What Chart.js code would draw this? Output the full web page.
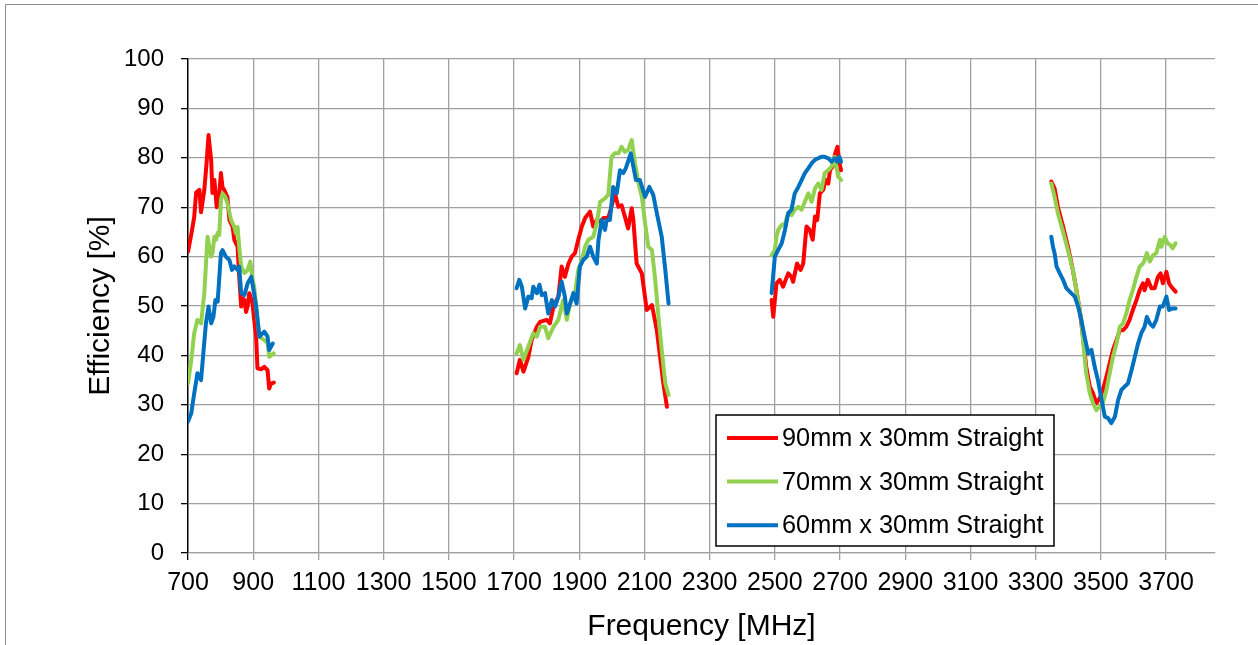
<!DOCTYPE html>
<html>
<head>
<meta charset="utf-8">
<script src="https://cdn.jsdelivr.net/npm/chart.js@4/dist/chart.umd.min.js"></script>
<style>
  html, body { margin: 0; padding: 0; background: #fff; }
  canvas { display: block; }
</style>
</head>
<body>
<canvas id="effChart" width="1258" height="645"></canvas>
<script>
// tick labels
const xTicks = [700, 900, 1100, 1300, 1500, 1700, 1900, 2100, 2300, 2500, 2700, 2900, 3100, 3300, 3500, 3700];

const seriesNames = ['90mm x 30mm Straight', '70mm x 30mm Straight', '60mm x 30mm Straight'];
const seriesColors = ['#ff0000', '#92d050', '#0070c0'];

// [frequency MHz, efficiency %], one array per band
const red700 = [[700,61],[710,64.5],[719,68],[725,73],[735,73.5],[740,69],[750,73.5],[757,79],[763,84.6],[767,82],[771,79.6],[775,72.9],[781,75.5],[788,70],[795,72],[801,76.9],[806,74],[811,73.5],[821,72],[827,67.4],[837,66],[842,63.4],[852,62],[858,55],[863,49.9],[868,51.5],[873,51.2],[878,48.8],[883,50],[888,52.6],[898,50.5],[903,47.2],[909,43.8],[913,37.4],[925,37.2],[934,37.7],[944,37],[949,33.3],[955,34.3],[963,34.5]];
const green700 = [[700,34.3],[710,39],[719,44.5],[729,47.2],[740,46.5],[750,52.6],[760,64],[771,60],[775,60.7],[781,64],[786,63.4],[791,64.8],[796,64.4],[801,71.5],[806,72.8],[814,72.1],[821,70.8],[832,67.4],[842,66],[847,64.7],[852,66],[857,62],[863,58],[873,56.7],[883,57.3],[891,59],[898,55.3],[903,53.9],[909,49.9],[919,43.8],[934,43.1],[944,42.5],[949,39.7],[963,40.4]];
const blue700 = [[700,26.6],[710,28.3],[719,32.3],[729,36.4],[740,35],[747,40.4],[755,46.5],[763,49.9],[771,46.5],[778,47.8],[784,51.2],[791,50.9],[801,60.7],[806,61.3],[816,60],[827,59.3],[835,57.3],[842,58],[852,57.3],[857,58],[863,52.6],[873,52.2],[883,54.6],[894,55.9],[901,53.2],[909,49.9],[919,43.8],[934,44.8],[944,43.8],[949,41.1],[960,42.4]];

const red1900 = [[1708,36.4],[1718,39.1],[1729,36.7],[1744,39.7],[1754,43.1],[1770,45.8],[1780,46.8],[1800,47.2],[1810,46.5],[1821,49.9],[1836,51.9],[1846,58],[1856,55.9],[1867,58.6],[1877,60],[1887,60.7],[1897,63.4],[1908,66.1],[1918,67.8],[1933,69.1],[1943,66.1],[1954,67.4],[1964,67.1],[1974,67.8],[1989,67.8],[1999,70.1],[2009,72.8],[2020,70.1],[2030,70.4],[2040,68.1],[2050,65.7],[2061,69.8],[2066,67.4],[2076,58.6],[2092,56.6],[2107,49.2],[2123,50.2],[2138,45.1],[2148,39.7],[2158,34.3],[2169,29.6]];
const green1900 = [[1708,40.4],[1718,42.1],[1729,39.1],[1744,41.8],[1759,44.5],[1770,43.8],[1780,45.8],[1795,45.8],[1805,43.5],[1821,45.8],[1836,47.2],[1851,51.2],[1862,47.2],[1872,50.5],[1887,52.6],[1897,57.3],[1908,59.3],[1918,62],[1928,63.4],[1943,64],[1954,66.8],[1964,71.1],[1979,71.8],[1989,72.5],[1999,80.2],[2009,80.9],[2020,80.9],[2030,82.2],[2040,81.2],[2050,81.6],[2061,83.6],[2071,78.9],[2082,74.8],[2092,72.1],[2102,66.7],[2112,62],[2123,61.3],[2133,55.3],[2143,47.8],[2153,41.1],[2164,34.3],[2174,32]];
const blue1900 = [[1708,53.6],[1716,55.3],[1724,53.9],[1734,49.5],[1744,51.9],[1754,51.6],[1759,53.9],[1770,52.6],[1778,54.3],[1785,52.2],[1795,52.6],[1805,48.5],[1816,51.2],[1826,49.9],[1836,51.9],[1846,54.9],[1856,51.9],[1862,48.5],[1872,50.5],[1882,52.6],[1892,50.5],[1902,58],[1912,59.3],[1923,60],[1933,62],[1943,60],[1954,58.6],[1959,63.4],[1969,67.4],[1979,65.4],[1984,67.4],[1994,67.4],[2004,74.1],[2015,72.8],[2025,77.5],[2035,76.9],[2043,77.9],[2058,80.9],[2066,78.2],[2074,75.5],[2086,75.5],[2102,72.1],[2115,74.1],[2127,72.5],[2138,68.8],[2153,64],[2164,57.3],[2174,50.5]];

const red2600 = [[2490,51.2],[2495,47.8],[2505,54.6],[2515,55.3],[2525,53.9],[2541,56.6],[2551,55.9],[2556,54.9],[2568,58.6],[2579,57.3],[2587,58.6],[2597,66.1],[2607,65.4],[2616,63.4],[2623,68.1],[2630,67.4],[2638,72.8],[2648,73.5],[2656,75.5],[2664,74.8],[2669,77.5],[2677,78.2],[2685,80.9],[2692,82.2],[2698,78.9],[2703,77.5]];
const green2600 = [[2490,60.3],[2500,61.3],[2505,64],[2510,65.4],[2521,66.4],[2531,66.7],[2541,68.8],[2551,68.4],[2561,69.5],[2572,70.1],[2582,69.5],[2592,71.1],[2603,72.8],[2613,71.1],[2623,73.8],[2633,74.8],[2643,73.5],[2653,76.9],[2664,77.5],[2674,78.2],[2684,80.2],[2694,76.2],[2703,75.5]];
const blue2600 = [[2490,52.6],[2500,60],[2510,61.3],[2521,62.7],[2531,65.4],[2541,68.8],[2551,69.5],[2561,72.8],[2572,74.1],[2582,75.5],[2592,76.9],[2603,77.9],[2613,78.9],[2623,79.6],[2633,79.9],[2643,80.2],[2653,80.2],[2664,79.9],[2674,79.2],[2684,79.9],[2692,79.2],[2698,80.2],[2703,79.2]];

const red3500 = [[3348,75.2],[3358,73.8],[3368,70.1],[3384,66.1],[3399,62],[3414,57.3],[3425,53.2],[3435,49.2],[3445,43.8],[3455,37.7],[3466,33.7],[3476,32.3],[3486,30.3],[3496,31.3],[3506,33],[3517,35.7],[3527,38.4],[3537,41.1],[3548,43.1],[3558,45.1],[3568,45.1],[3578,45.8],[3588,47.2],[3598,49.2],[3609,51.2],[3619,53.2],[3629,54.6],[3634,53.2],[3644,55.3],[3655,53.6],[3665,53.6],[3675,55.9],[3683,56.6],[3690,54.6],[3701,56.9],[3709,54.6],[3716,53.9],[3729,52.9]];
const green3500 = [[3348,74.8],[3358,72.1],[3368,68.8],[3384,65],[3399,61.3],[3414,57.3],[3430,51.2],[3440,47.2],[3447,41.8],[3455,36.4],[3466,32.3],[3476,30.3],[3486,28.9],[3496,29.6],[3506,30.3],[3517,33],[3527,36.4],[3537,39.7],[3548,42.4],[3558,45.8],[3568,46.5],[3578,48.5],[3588,51.2],[3598,53.2],[3609,55.9],[3619,58],[3629,58.6],[3634,59.3],[3641,60.7],[3650,59],[3660,60.3],[3670,60.7],[3681,63.4],[3686,62],[3696,64],[3704,62.7],[3712,62.4],[3720,61.7],[3729,62.7]];
const blue3500 = [[3348,64],[3353,62],[3358,60.7],[3364,58],[3374,56.6],[3384,55.3],[3394,53.6],[3409,52.6],[3420,51.9],[3430,49.9],[3440,47.2],[3450,43.8],[3461,40.4],[3471,41.1],[3481,37.7],[3491,35],[3502,31],[3512,27.6],[3522,27.3],[3532,26.3],[3543,27.6],[3553,31],[3563,33],[3573,33.7],[3583,34.3],[3594,37],[3604,39.7],[3614,42.4],[3624,44.5],[3634,45.8],[3641,47.8],[3650,46.5],[3660,45.8],[3670,47.2],[3681,49.9],[3690,49.9],[3701,51.9],[3709,49.2],[3720,49.5],[3729,49.5]];

const redBands = [red700, red1900, red2600, red3500];
const greenBands = [green700, green1900, green2600, green3500];
const blueBands = [blue700, blue1900, blue2600, blue3500];

// join the bands, with a null point between them so the line breaks
function joinBands(bands) {
    const out = [];
    bands.forEach((band, i) => {
        if (i > 0) out.push({ x: band[0][0] - 1, y: null });
        band.forEach(p => out.push({ x: p[0], y: p[1] }));
    });
    return out;
}

const gridGray = '#a0a0a0';
const font = 'Liberation Sans, Arial, sans-serif';

const frame = {
    id: 'frame',
    beforeDraw(chart) {
        const ctx = chart.ctx;
        ctx.save();
        ctx.fillStyle = '#fff';
        ctx.fillRect(0, 0, chart.width, chart.height);
        ctx.strokeStyle = '#8c8c8c';
        ctx.lineWidth = 1;
        ctx.beginPath();
        ctx.moveTo(5.5, chart.height + 5);
        ctx.lineTo(5.5, 4.5);
        ctx.lineTo(chart.width + 5, 4.5);
        ctx.stroke();
        ctx.restore();
    }
};

const boxLegend = {
    id: 'boxLegend',
    afterDraw(chart) {
        const ctx = chart.ctx;
        const area = chart.chartArea;
        const left = area.left + 528, top = area.top + 356, w = 338, h = 131;
        ctx.save();
        ctx.fillStyle = '#fff';
        ctx.fillRect(left, top, w, h);
        ctx.strokeStyle = '#000';
        ctx.lineWidth = 1.5;
        ctx.strokeRect(left, top, w, h);
        ctx.font = '25.3px ' + font;
        ctx.textBaseline = 'middle';
        ctx.textAlign = 'left';
        chart.data.datasets.forEach((ds, i) => {
            const y = top + 23 + i * 43.6;
            ctx.strokeStyle = ds.borderColor;
            ctx.lineWidth = 4;
            ctx.beginPath();
            ctx.moveTo(left + 11, y);
            ctx.lineTo(left + 62, y);
            ctx.stroke();
            ctx.fillStyle = '#000';
            ctx.fillText(ds.label, left + 66, y + 1);
        });
        ctx.restore();
    }
};

const allBands = [redBands, greenBands, blueBands];

new Chart(document.getElementById('effChart'), {
    type: 'line',
    data: {
        datasets: allBands.map((bands, i) => ({
            label: seriesNames[i],
            data: joinBands(bands),
            borderColor: seriesColors[i],
            backgroundColor: seriesColors[i],
            borderWidth: 4,
            pointRadius: 0,
            tension: 0,
            spanGaps: false,
            borderJoinStyle: 'round',
            borderCapStyle: 'round',
            order: 3 - i
        }))
    },
    options: {
        responsive: false,
        animation: false,
        devicePixelRatio: 1,
        layout: { padding: { left: 0, right: 43, top: 59, bottom: 0 } },
        plugins: { legend: { display: false }, tooltip: { enabled: false } },
        scales: {
            x: {
                type: 'linear',
                min: 700,
                max: 3850,
                afterBuildTicks: scale => { scale.ticks = xTicks.map(v => ({ value: v })); },
                afterFit: scale => { scale.height = 92; },
                grid: {
                    color: c => (c.tick && c.tick.value === 700 ? '#000' : gridGray),
                    tickColor: c => (c.tick && c.tick.value === 700 ? '#000' : gridGray),
                    lineWidth: 1.3,
                    tickLength: 7
                },
                border: { color: gridGray, width: 1.3 },
                ticks: {
                    color: '#000',
                    font: { family: font, size: 25 },
                    padding: 8,
                    maxRotation: 0,
                    autoSkip: false,
                    callback: v => String(v)
                },
                title: {
                    display: true,
                    text: 'Frequency [MHz]',
                    color: '#000',
                    font: { family: font, size: 30 },
                    padding: { top: 0, bottom: 0 }
                }
            },
            y: {
                min: 0,
                max: 100,
                afterFit: scale => { scale.width = 188; },
                grid: {
                    color: gridGray,
                    tickColor: '#000',
                    lineWidth: 1.3,
                    tickLength: 7
                },
                border: { color: '#000', width: 1.3 },
                ticks: {
                    stepSize: 10,
                    color: '#000',
                    font: { family: font, size: 24 },
                    padding: 17
                },
                title: {
                    display: true,
                    text: 'Efficiency [%]',
                    color: '#000',
                    font: { family: font, size: 30 },
                    padding: { top: 83, bottom: 0 }
                }
            }
        }
    },
    plugins: [frame, boxLegend]
});
</script>
</body>
</html>
